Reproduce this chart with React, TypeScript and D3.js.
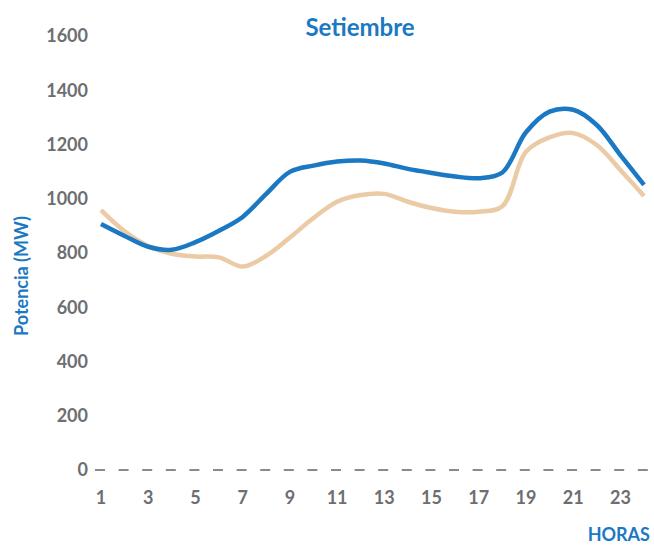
import React from "react";
import * as d3 from "d3";

const hours: number[] = Array.from({ length: 24 }, (_, i) => i + 1);
const blueSeries: number[] = [907, 863, 823, 812, 840, 882, 933, 1018, 1099, 1122, 1137, 1141, 1130, 1110, 1095, 1082, 1076, 1097, 1245, 1321, 1328, 1272, 1161, 1051];
const tanSeries: number[] = [958, 880, 826, 797, 787, 784, 750, 790, 857, 929, 989, 1014, 1018, 989, 966, 952, 952, 972, 1173, 1226, 1242, 1198, 1106, 1010];
const yTicks: number[] = [0, 200, 400, 600, 800, 1000, 1200, 1400, 1600];
const xTicks: number[] = [1, 3, 5, 7, 9, 11, 13, 15, 17, 19, 21, 23];
const title = "Setiembre";
const yLabel = "Potencia (MW)";
const xLabel = "HORAS";

const W = 654;
const H = 546;
const BLUE = "#1b78c2";
const TAN = "#ebcba6";
const GRAY = "#6d6e71";
const FONT = "Lato, 'Open Sans', sans-serif";

export default function App() {
  const x = d3.scaleLinear().domain([1, 24]).range([101, 644]);
  const y = d3.scaleLinear().domain([0, 1600]).range([470, 36]);
  const line = d3
    .line<number>()
    .x((_, i) => x(hours[i]))
    .y((d) => y(d))
    .curve(d3.curveCatmullRom.alpha(0.5));

  return (
    <svg
      width={W}
      height={H}
      style={{ position: "absolute", left: 0, top: 0, background: "#fff" }}
      fontFamily={FONT}
    >
      <text x={360} y={36} textAnchor="middle" fontSize={24} fontWeight={700} fill={BLUE}>
        {title}
      </text>
      {yTicks.map((t) => (
        <text key={t} x={88} y={y(t)} dy="0.36em" textAnchor="end" fontSize={18} fontWeight={700} fill={GRAY}>
          {t}
        </text>
      ))}
      <line x1={95} x2={648} y1={y(0)} y2={y(0)} stroke="#8a8a8a" strokeWidth={2} strokeDasharray="10,13.6" />
      {xTicks.map((t) => (
        <text key={t} x={x(t)} y={504} textAnchor="middle" fontSize={18} fontWeight={700} fill={GRAY}>
          {t}
        </text>
      ))}
      <text
        transform={`translate(28,276) rotate(-90)`}
        textAnchor="middle"
        fontSize={18}
        fontWeight={700}
        fill={BLUE}
      >
        {yLabel}
      </text>
      <text x={650} y={541} textAnchor="end" fontSize={18} fontWeight={700} fill={BLUE}>
        {xLabel}
      </text>
      <path d={line(tanSeries) || ""} fill="none" stroke={TAN} strokeWidth={4.5} strokeLinejoin="round" />
      <path d={line(blueSeries) || ""} fill="none" stroke={BLUE} strokeWidth={4.5} strokeLinejoin="round" />
    </svg>
  );
}
